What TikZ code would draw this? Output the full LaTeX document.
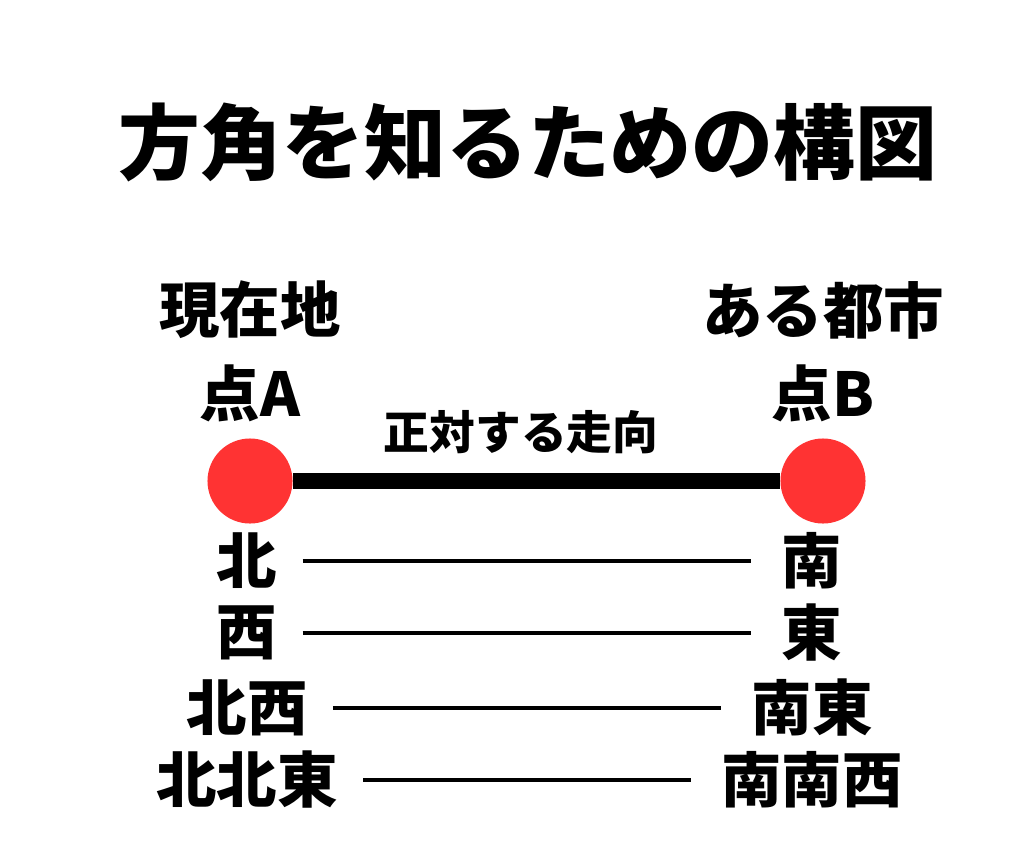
\documentclass[tikz,border=0pt]{standalone}
\usepackage{fontspec}
\setmainfont{Noto Sans CJK JP}
\definecolor{dotred}{HTML}{FF3333}
\begin{document}
\begin{tikzpicture}[x=0.01cm,y=-0.01cm]
\useasboundingbox[fill=white] (0,0) rectangle (1024,851);
\node[font=\fontsize{23.3pt}{26pt}\selectfont\bfseries] (title) at (528,142){方角を知るための構図};
\node[font=\fontsize{17.2pt}{20pt}\selectfont\bfseries] (here) at (250,310){現在地};
\node[font=\fontsize{17.2pt}{20pt}\selectfont\bfseries] (city) at (823,310){ある都市};
\node[font=\fontsize{17.2pt}{20pt}\selectfont\bfseries] (ptA) at (250,393){点A};
\node[font=\fontsize{17.2pt}{20pt}\selectfont\bfseries] (ptB) at (823,393){点B};
\node[font=\fontsize{13pt}{16pt}\selectfont\bfseries] (trend) at (521,432){正対する走向};
\node[circle, minimum size=0.85cm, fill=dotred] (dotA) at (250,481){};
\node[circle, minimum size=0.85cm, fill=dotred] (dotB) at (823,481){};
\draw[line width=4.5pt](dotA) -- (dotB);
\foreach \i/\y/\l/\r in {0/561/北/南, 1/633/西/東, 2/708/北西/南東, 3/780/北北東/南南西}{
\node[font=\fontsize{17.2pt}{20pt}\selectfont\bfseries] (dirL\i) at (247,\y){\l};
\node[font=\fontsize{17.2pt}{20pt}\selectfont\bfseries] (dirR\i) at (812,\y){\r};
\draw[line width=1pt, shorten <=0.13cm, shorten >=0.18cm](dirL\i) -- (dirR\i);
}
\end{tikzpicture}
\end{document}
